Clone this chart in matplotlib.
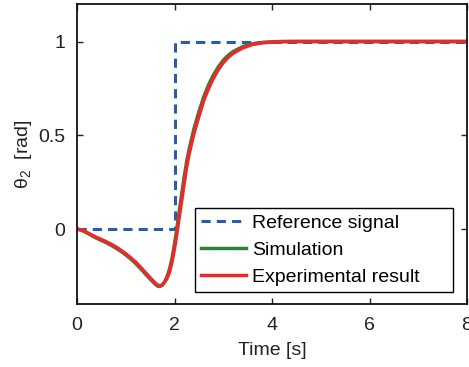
import numpy as np
import matplotlib
matplotlib.use('Agg')
import matplotlib.pyplot as plt

# reference step
ref_t = [0, 2, 2, 8]
ref_v = [0, 0, 1, 1]

t = [0, 0.1, 0.2, 0.3, 0.4, 0.5, 0.6, 0.7, 0.8, 0.9,
     1.0, 1.1, 1.2, 1.3, 1.4, 1.5, 1.6, 1.65, 1.7, 1.75,
     1.8, 1.85, 1.9, 1.95, 2.0, 2.05, 2.1, 2.15, 2.2, 2.25,
     2.3, 2.4, 2.5, 2.6, 2.7, 2.8, 2.9, 3.0, 3.1, 3.2,
     3.4, 3.6, 3.8, 4.0, 4.2, 4.5, 5, 6, 7, 8]

sim_v = [0, -0.007, -0.020, -0.035, -0.049, -0.061, -0.073, -0.087, -0.102, -0.119,
         -0.138, -0.159, -0.183, -0.210, -0.239, -0.267, -0.293, -0.304, -0.307, -0.300,
         -0.280, -0.252, -0.212, -0.155, -0.080, 0.005, 0.100, 0.190, 0.280, 0.360,
         0.425, 0.535, 0.625, 0.705, 0.770, 0.822, 0.865, 0.900, 0.926, 0.946,
         0.973, 0.988, 0.995, 0.998, 1.0, 1.0, 1.0, 1.0, 1.0, 1.0]

exp_v = [0, -0.006, -0.018, -0.032, -0.045, -0.056, -0.068, -0.081, -0.096, -0.113,
         -0.132, -0.153, -0.176, -0.203, -0.232, -0.260, -0.287, -0.298, -0.303, -0.298,
         -0.283, -0.262, -0.228, -0.175, -0.105, -0.022, 0.068, 0.155, 0.245, 0.330,
         0.400, 0.510, 0.600, 0.685, 0.750, 0.805, 0.850, 0.887, 0.915, 0.937,
         0.966, 0.984, 0.993, 0.997, 0.999, 1.0, 1.0, 1.0, 1.0, 1.0]

plt.rcParams['font.family'] = ['Liberation Sans', 'DejaVu Sans']
plt.rcParams['mathtext.fontset'] = 'custom'
plt.rcParams['mathtext.rm'] = 'Liberation Sans'
plt.rcParams['mathtext.it'] = 'Liberation Sans:italic'

fig = plt.figure(figsize=(4.69, 3.67), dpi=100)
ax = fig.add_axes([77/469., 1-304/367., 390/469., 300/367.])

ax.plot(ref_t, ref_v, color='#2a5cab', lw=2.2, dashes=(3, 2), label='Reference signal')
ax.plot(t, sim_v, color='#2f7f3a', lw=2.5, label='Simulation')
ax.plot(t, exp_v, color='#ee2828', lw=2.5, label='Experimental result')

ax.set_xlim(0, 8)
ax.set_ylim(-0.4, 1.2)
ax.set_xticks([0, 2, 4, 6, 8])
ax.set_yticks([0, 0.5, 1])
ax.set_yticklabels(['0', '0.5', '1'])
ax.tick_params(direction='in', top=True, right=True, length=4, width=1, labelsize=14, colors='#222222')
ax.tick_params(axis='x', pad=9)
ax.tick_params(axis='y', pad=8.5)
for s in ax.spines.values():
    s.set_linewidth(1.3)
    s.set_color('#111111')

ax.set_xlabel('Time [s]', fontsize=14, color='#222222', labelpad=6)
ax.set_ylabel('θ$_2$  [rad]', fontsize=14, color='#222222', labelpad=3)

# legend box stretched like the original
leg = ax.legend(loc='lower left', bbox_to_anchor=(0.3026, 0.04, 0.6615, 0.28), mode='expand',
                fontsize=14, fancybox=False, edgecolor='black',
                framealpha=1, handlelength=2.3, handletextpad=0.3, labelspacing=0.48,
                borderpad=0.32, borderaxespad=0)
leg.get_frame().set_linewidth(1.0)

plt.savefig('out.png', dpi=100)
